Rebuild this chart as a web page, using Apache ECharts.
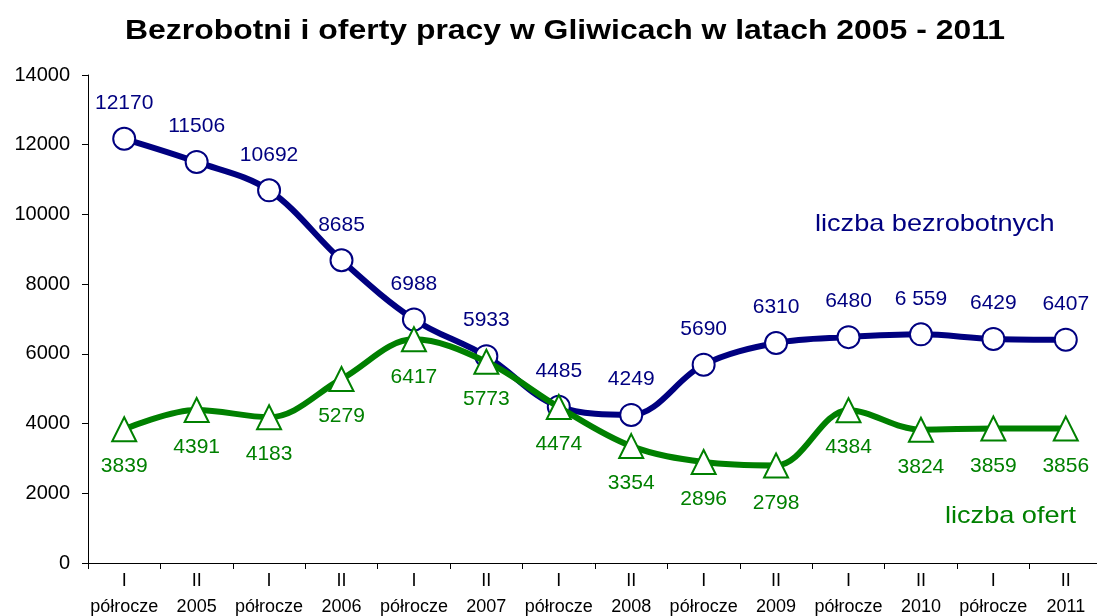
<!DOCTYPE html>
<html>
<head>
<meta charset="utf-8">
<script src="https://cdn.jsdelivr.net/npm/echarts@6/dist/echarts.min.js"></script>
<style>
html, body { margin: 0; padding: 0; background: #fff; }
#chart { width: 1097px; height: 616px; }
</style>
</head>
<body>
<div id="chart"></div>
<script>
var categories = ['I\npółrocze', 'II\n2005', 'I\npółrocze', 'II\n2006', 'I\npółrocze', 'II\n2007',
	'I\npółrocze', 'II\n2008', 'I\npółrocze', 'II\n2009', 'I\npółrocze', 'II\n2010', 'I\npółrocze', 'II\n2011'];
var bezrobotni = [12170, 11506, 10692, 8685, 6988, 5933, 4485, 4249, 5690, 6310, 6480, 6559, 6429, 6407];
var bezrobotniLabels = ['12170', '11506', '10692', '8685', '6988', '5933', '4485', '4249', '5690', '6310', '6480', '6 559', '6429', '6407'];
var oferty = [3839, 4391, 4183, 5279, 6417, 5773, 4474, 3354, 2896, 2798, 4384, 3824, 3859, 3856];
var yTicks = [0, 2000, 4000, 6000, 8000, 10000, 12000, 14000];

var navy = '#000080';
var green = '#008000';
var font = 'Liberation Sans, Arial, sans-serif';
// obrazek jest lekko rozciagniety w poziomie
var stretch = 1.13;

var chart = echarts.init(document.getElementById('chart'));

var option = {
	backgroundColor: '#fff',
	animation: false,
	grid: { left: 88, right: -5, top: 75, bottom: 53, outerBoundsMode: 'none', containLabel: false },
	xAxis: {
		type: 'category',
		data: categories,
		boundaryGap: true,
		axisLine: { lineStyle: { color: '#000', width: 1 } },
		axisTick: { show: true, length: 6, lineStyle: { color: '#000' } },
		axisLabel: { color: '#000', fontFamily: font, fontSize: 18, lineHeight: 26, margin: 5, interval: 0 }
	},
	yAxis: {
		type: 'value',
		min: 0,
		max: yTicks[yTicks.length - 1],
		interval: yTicks[1] - yTicks[0],
		axisLine: { show: true, lineStyle: { color: '#000', width: 1 } },
		axisTick: { show: true, length: 6, lineStyle: { color: '#000' } },
		splitLine: { show: false },
		axisLabel: {
			color: '#000', fontFamily: font, fontSize: 20, margin: 18,
			formatter: function(v) { return String(v); }
		}
	},
	series: [{
		name: 'liczba bezrobotnych',
		type: 'line',
		data: bezrobotni,
		smooth: 0.35,
		symbol: 'circle',
		symbolSize: 22,
		itemStyle: { color: '#fff', borderColor: navy, borderWidth: 2 },
		lineStyle: { color: navy, width: 6 },
		label: {
			show: true,
			position: 'top',
			distance: 13,
			color: navy,
			fontFamily: font,
			fontSize: 21,
			formatter: function(p) { return bezrobotniLabels[p.dataIndex]; }
		},
		z: 3
	}, {
		name: 'liczba ofert',
		type: 'line',
		data: oferty,
		smooth: 0.35,
		symbol: 'triangle',
		symbolSize: 24,
		itemStyle: { color: '#fff', borderColor: green, borderWidth: 2 },
		lineStyle: { color: green, width: 6 },
		label: {
			show: true,
			position: 'bottom',
			distance: 14,
			color: green,
			fontFamily: font,
			fontSize: 21
		},
		z: 4
	}],
	graphic: [{
		type: 'text',
		x: 565,
		y: 31,
		scaleX: 1.14,
		style: {
			text: 'Bezrobotni i oferty pracy w Gliwicach w latach 2005 - 2011',
			fill: '#000', font: 'bold 28px ' + font,
			textAlign: 'center', textVerticalAlign: 'middle'
		}
	}, {
		type: 'text',
		x: 815,
		y: 224,
		scaleX: stretch,
		style: { text: 'liczba bezrobotnych', fill: navy, font: '24px ' + font, textAlign: 'left', textVerticalAlign: 'middle' }
	}, {
		type: 'text',
		x: 945,
		y: 516,
		scaleX: stretch,
		style: { text: 'liczba ofert', fill: green, font: '24px ' + font, textAlign: 'left', textVerticalAlign: 'middle' }
	}]
};

chart.setOption(option);
</script>
</body>
</html>
